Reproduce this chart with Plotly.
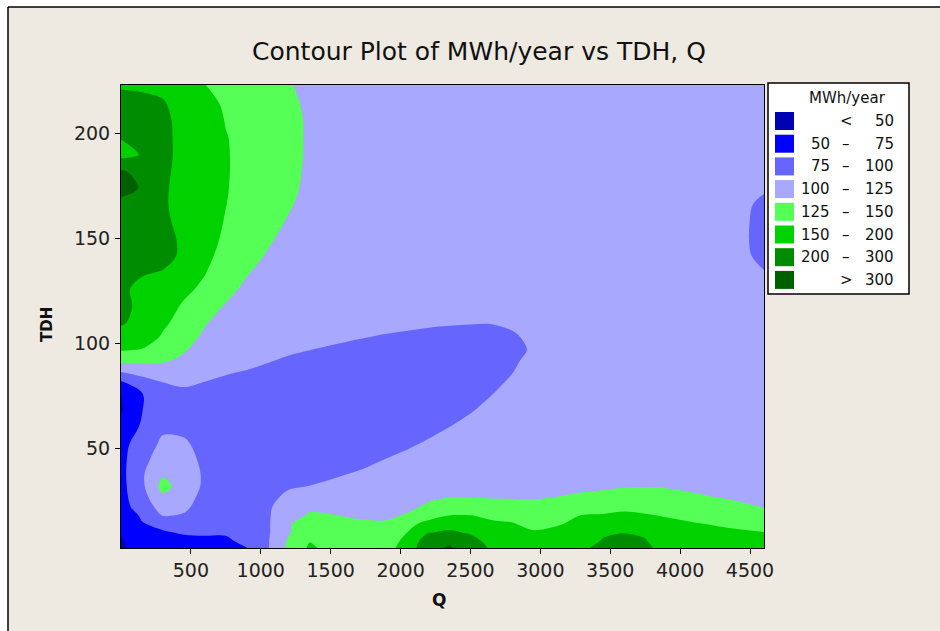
import numpy as np
import plotly.graph_objects as go

# ---------------- data ----------------
Q = [0, 150, 300, 450, 600, 750, 900, 1050, 1200, 1350, 1500, 1700, 1900, 2050, 2200,
     2350, 2500, 2650, 2800, 2950, 3100, 3300, 3450, 3600, 3750, 3900, 4100, 4350, 4600]

TDH = [2.6, 6, 10, 14, 18, 22, 27, 32, 38, 45, 52, 60, 68, 76, 82, 87, 92, 97, 103,
       110, 118, 126, 134, 142, 150, 158, 166, 174, 182, 190, 198, 206, 214, 223.2]

# MWh/year, one row per TDH value (bottom to top), one column per Q value
MWH = [
    [42, 59, 66, 67, 67.5, 67.5, 74.5, 98, 131, 157, 144, 135, 142, 172, 275, 308, 247, 195, 171, 172, 170, 194, 222, 237, 220, 184, 175, 175, 169],
    [45, 62, 69, 71, 72, 72, 80, 98, 128, 149, 143, 134, 139, 163, 261, 290, 232, 184, 166, 164, 169, 178, 207, 220, 205, 178, 172, 167, 160],
    [53, 65, 73.5, 76.5, 77, 77, 81.5, 97, 123, 142, 139, 132, 135, 150.5, 198, 215, 195, 172, 162, 153, 158, 175, 194, 199, 194, 172, 163, 155.5, 150.5],
    [59, 74, 79, 89.5, 84, 82.5, 85, 97, 123, 135, 131, 128, 127.5, 141, 170, 182, 175, 155, 152, 146, 148, 158.5, 173, 180, 173, 158.5, 152.5, 147.5, 144.5],
    [64, 77, 101, 98, 91, 87.5, 87.5, 97, 118.5, 127, 126, 123, 122, 127, 137.5, 151, 151, 147.5, 145.5, 138, 141.5, 152, 153.5, 157, 153.5, 149, 145, 139, 133],
    [66, 85, 110.5, 104, 91, 87.5, 87.5, 96.5, 113, 122, 120.5, 118, 117, 121.5, 128, 138, 137.5, 134.5, 133, 131.5, 133.5, 140, 143.5, 146.5, 144, 141, 137, 131, 124.5],
    [67, 91, 121, 107.5, 94.5, 87.5, 87.5, 92, 106, 109.5, 113, 114, 112.5, 115, 122, 124, 124, 123, 123, 123, 124.8, 128, 129, 130.8, 131, 130.5, 127.4, 123, 118],
    [67.5, 95, 133, 114, 96, 87.5, 87.5, 89.5, 97, 100.5, 104, 110, 112.5, 112.5, 115, 117.5, 117, 117, 116, 117, 118, 121, 122.7, 124, 124.5, 124, 121, 116, 112.5],
    [68, 97, 121.5, 113.5, 96.5, 87.5, 87.5, 87.5, 89, 92, 96.6, 102, 109, 112.5, 112.5, 112.5, 113, 113, 112.5, 112, 112, 114, 115, 116, 117, 116, 113, 112.5, 112.5],
    [68, 93, 111, 108, 95, 87.5, 87.5, 87.5, 87.5, 87.5, 87.5, 93, 100.4, 105.5, 112, 112.5, 113, 113, 113, 112.5, 112, 112, 112.5, 113, 113, 113, 112.5, 112.5, 112.5],
    [67.5, 86.5, 105, 104, 91, 87.5, 87.5, 87.5, 87.5, 87.5, 87.5, 87.5, 92.5, 97, 103, 109, 112.5, 113, 113, 113, 112.5, 112, 112, 112.5, 113, 113, 112.5, 112.5, 112.5],
    [60, 78, 96, 94, 88, 87.5, 87.5, 87.5, 87.5, 87.5, 87.5, 87.5, 87.5, 87.5, 94, 100.3, 107.5, 112.5, 113, 113, 112.5, 112, 112, 112.5, 113, 113, 112.5, 112.5, 112.5],
    [44.6, 74.5, 87, 87.5, 87.5, 87.5, 87.5, 87.5, 87.5, 87.5, 87.5, 87.5, 87.5, 87.5, 87.5, 91.5, 98.6, 106.6, 112.5, 113, 112.5, 112, 112, 112.5, 113, 113, 112.5, 112.5, 112.5],
    [48, 74, 91, 95.7, 92.5, 88.5, 87.5, 87.5, 87.5, 87.5, 87.5, 87.5, 87.5, 87.5, 87.5, 87.5, 87.5, 99.3, 108.7, 112.5, 112.5, 112, 112, 112.5, 113, 113, 112.5, 112.5, 112.5],
    [74, 91, 101, 103.6, 100.2, 96, 93, 88.8, 87.5, 87.5, 87.5, 87.5, 87.5, 87.5, 87.5, 87.5, 87.5, 94, 103, 111, 112.5, 112, 112, 112.5, 113, 113, 112.5, 112.5, 112.5],
    [103.3, 110.8, 115, 113, 106.7, 102.8, 99.5, 95, 90, 87.5, 87.5, 87.5, 87.5, 87.5, 87.5, 87.5, 87.5, 87.5, 99, 110.5, 112.5, 112, 112, 112.5, 113, 113, 112.5, 112.5, 112.5],
    [131.8, 130, 128, 120.7, 112.5, 109, 106, 101.7, 97, 93.7, 90.7, 87.5, 87.5, 87.5, 87.5, 87.5, 87.5, 87.5, 95.8, 107, 112.5, 112, 112, 112.5, 113, 113, 112.5, 112.5, 112.5],
    [154, 149, 137.5, 127, 116, 112.5, 112.5, 108, 103.6, 100.3, 97.2, 93.4, 90, 88, 87.5, 87.5, 87.5, 87.5, 91, 104, 112.5, 112, 112, 112.5, 113, 113, 112.5, 112.5, 112.5],
    [181, 171, 147.5, 133.8, 121, 112.5, 112.5, 112.5, 111, 108.4, 105, 101.2, 97.8, 96, 94, 92.8, 92, 91.8, 96, 106.6, 112.5, 112, 112, 112.5, 113, 113, 112.5, 112.5, 112.5],
    [211, 185, 157.6, 142, 126.8, 116.5, 112.5, 112.5, 112.5, 112.5, 112.5, 110.6, 106.8, 105, 103.2, 102, 101.2, 101, 105, 109, 112.5, 112, 112, 112.5, 113, 113, 112.5, 112.5, 112.5],
    [225, 189, 168, 147.7, 135.3, 123.4, 113.5, 112.5, 112.5, 112.5, 113, 113, 112.5, 112, 112, 112.5, 113, 113, 113, 112.5, 112.5, 112, 112, 112.5, 113, 113, 112.5, 112.5, 112.5],
    [223, 185, 178, 159, 145.7, 132, 120, 112.5, 112.5, 112.5, 113, 113, 112.5, 112, 112, 112.5, 113, 113, 113, 112.5, 112.5, 112, 112, 112.5, 113, 113, 112.5, 112.5, 112],
    [230, 211, 197, 179, 152, 138, 126.8, 116.8, 112.5, 112.5, 113, 113, 112.5, 112, 112, 112.5, 113, 113, 113, 112.5, 112.5, 112, 112, 112.5, 113, 113, 112.5, 112.5, 101],
    [255, 250, 233, 190.5, 160.5, 143, 135.3, 122.7, 112.5, 112.5, 113, 113, 112.5, 112, 112, 112.5, 113, 113, 113, 112.5, 112.5, 112, 112, 112.5, 113, 113, 112.5, 112.5, 93],
    [255, 250, 233, 190.5, 168, 146, 137.5, 128.6, 117.8, 112.5, 113, 113, 112.5, 112, 112, 112.5, 113, 113, 113, 112.5, 112.5, 112, 112, 112.5, 113, 113, 112.5, 112, 91],
    [205, 240, 221, 184.5, 173, 148.4, 140, 134.3, 122.6, 112.5, 113, 113, 112.5, 112, 112, 112.5, 113, 113, 113, 112.5, 112.5, 112, 112, 112.5, 113, 113, 112.5, 112, 91.7],
    [260, 245, 214, 180.5, 175, 150.6, 142, 134.5, 127.5, 116.5, 113, 113, 112.5, 112, 112, 112.5, 113, 113, 113, 112.5, 112.5, 112, 112, 112.5, 113, 113, 112.5, 112.5, 94],
    [345, 290, 215, 181, 175, 152.4, 143, 136, 131.5, 118.5, 113, 113, 112.5, 112, 112, 112.5, 113, 113, 113, 112.5, 112.5, 112, 112, 112.5, 113, 113, 112.5, 112.5, 103],
    [310, 275, 220, 184, 175, 153, 143.7, 136.5, 133, 120, 113, 113, 112.5, 112, 112, 112.5, 113, 113, 113, 112.5, 112.5, 112, 112, 112.5, 113, 113, 112.5, 112.5, 112],
    [185, 206, 225, 186, 175, 153, 143.8, 136.8, 134, 121, 113, 113, 112.5, 112, 112, 112.5, 113, 113, 113, 112.5, 112.5, 112, 112, 112.5, 113, 113, 112.5, 112.5, 112.5],
    [203, 220, 224, 186, 175, 152, 143.5, 136.7, 134, 121, 113, 113, 112.5, 112, 112, 112.5, 113, 113, 113, 112.5, 112.5, 112, 112, 112.5, 113, 113, 112.5, 112.5, 112.5],
    [295, 265, 222, 184.5, 175, 149, 143, 136.3, 134, 121, 113, 113, 112.5, 112, 112, 112.5, 113, 113, 113, 112.5, 112.5, 112, 112, 112.5, 113, 113, 112.5, 112.5, 112.5],
    [260, 230, 210, 179, 169, 146, 141.5, 135, 132, 119, 113, 113, 112.5, 112, 112, 112.5, 113, 113, 113, 112.5, 112.5, 112, 112, 112.5, 113, 113, 112.5, 112.5, 112.5],
    [191, 191, 187.5, 174, 150.5, 144, 138, 132, 127.8, 114.8, 113, 113, 112.5, 112, 112, 112.5, 113, 113, 113, 112.5, 112.5, 112, 112, 112.5, 113, 113, 112.5, 112.5, 112.5],
]

# contour class breaks (MWh/year) and legend
BREAKS = [0, 50, 75, 100, 125, 150, 200, 300, 400]
LEGEND_LOW = ["", "50", "75", "100", "125", "150", "200", ""]
LEGEND_SEP = ["<", "\u2013", "\u2013", "\u2013", "\u2013", "\u2013", "\u2013", ">"]
LEGEND_HIGH = ["50", "75", "100", "125", "150", "200", "300", "300"]
COLORS = ["#0000B4", "#0000FF", "#6666FF", "#A8A8FF",
          "#55FF55", "#00D200", "#008C00", "#006000"]

X_TICKS = [500, 1000, 1500, 2000, 2500, 3000, 3500, 4000, 4500]
Y_TICKS = [50, 100, 150, 200]

# ---------------- figure ----------------
# map the uneven class breaks onto equal bands so Plotly can use equal contour steps
z_band = np.interp(np.array(MWH, dtype=float), BREAKS, list(range(len(BREAKS))))

W, H = 940, 631
L, R, T, B = 121, 764, 85, 548
PW, PH = R - L, B - T


def fx(px):
    return (px - L) / PW


def fy(py):
    return 1 - (py - T) / PH


fig = go.Figure()
fig.add_trace(go.Contour(
    x=Q, y=TDH, z=z_band,
    autocontour=False,
    contours=dict(start=1, end=7, size=1, coloring="fill", showlines=False),
    line=dict(width=0, smoothing=1.0),
    colorscale=[[k / 7, COLORS[k]] for k in range(8)],
    showscale=False, hoverinfo="skip",
))

FONT = "DejaVu Sans"
axis_common = dict(
    ticks="outside", ticklen=5, tickwidth=1, tickcolor="black",
    showline=True, linecolor="black", linewidth=1, mirror=True,
    showgrid=False, zeroline=False,
    tickfont=dict(family=FONT, size=19, color="#222"),
)
fig.update_layout(
    width=W, height=H,
    margin=dict(l=L, r=W - R, t=T, b=H - B, pad=0),
    paper_bgcolor="#EEEAE1", plot_bgcolor="#A8A8FF",
    showlegend=False,
    xaxis=dict(range=[0, 4600], tickvals=X_TICKS, **axis_common),
    yaxis=dict(range=[2.6, 223.2], tickvals=Y_TICKS, ticklabelstandoff=1, **axis_common),
)

shapes = []
annotations = []

# outer frame of the graph window
shapes.append(dict(type="rect", xref="paper", yref="paper", x0=fx(-5), x1=fx(8), y0=fy(640), y1=fy(-5),
                   fillcolor="white", line=dict(width=0), layer="above"))
shapes.append(dict(type="rect", xref="paper", yref="paper", x0=fx(-5), x1=fx(945), y0=fy(7), y1=fy(-5),
                   fillcolor="white", line=dict(width=0), layer="above"))
shapes.append(dict(type="line", xref="paper", yref="paper", x0=fx(8), x1=fx(8), y0=fy(7), y1=fy(640),
                   line=dict(color="black", width=1.5), layer="above"))
shapes.append(dict(type="line", xref="paper", yref="paper", x0=fx(8), x1=fx(945), y0=fy(7), y1=fy(7),
                   line=dict(color="black", width=1.5), layer="above"))

# title and axis titles
annotations.append(dict(text="Contour Plot of MWh/year vs TDH, Q", xref="paper", yref="paper",
                        x=fx(479), y=fy(52), xanchor="center", yanchor="middle", showarrow=False,
                        font=dict(family=FONT, size=25, color="#111")))
annotations.append(dict(text="<b>Q</b>", xref="paper", yref="paper", x=fx(439), y=fy(600),
                        xanchor="center", yanchor="middle", showarrow=False,
                        font=dict(family=FONT, size=17, color="#111")))
annotations.append(dict(text="<b>TDH</b>", xref="paper", yref="paper", x=fx(47), y=fy(325),
                        xanchor="center", yanchor="middle", showarrow=False, textangle=-90,
                        font=dict(family=FONT, size=15, color="#111")))

# legend box
shapes.append(dict(type="rect", xref="paper", yref="paper", x0=fx(768), x1=fx(909), y0=fy(294), y1=fy(83),
                   fillcolor="white", line=dict(color="black", width=1.5), layer="above"))
annotations.append(dict(text="MWh/year", xref="paper", yref="paper", x=fx(847), y=fy(98),
                        xanchor="center", yanchor="middle", showarrow=False,
                        font=dict(family=FONT, size=15, color="#111")))
for k in range(8):
    cy = 121 + k * 22.7
    shapes.append(dict(type="rect", xref="paper", yref="paper", x0=fx(775), x1=fx(794),
                       y0=fy(cy + 9), y1=fy(cy - 9), fillcolor=COLORS[k], line=dict(width=0), layer="above"))
    lf = dict(family=FONT, size=15, color="#111")
    if LEGEND_LOW[k]:
        annotations.append(dict(text=LEGEND_LOW[k], xref="paper", yref="paper", x=fx(832), y=fy(cy),
                                xanchor="right", yanchor="middle", showarrow=False, font=lf))
    annotations.append(dict(text=LEGEND_SEP[k], xref="paper", yref="paper", x=fx(846), y=fy(cy),
                            xanchor="center", yanchor="middle", showarrow=False, font=lf))
    annotations.append(dict(text=LEGEND_HIGH[k], xref="paper", yref="paper", x=fx(896), y=fy(cy),
                            xanchor="right", yanchor="middle", showarrow=False, font=lf))

fig.update_layout(shapes=shapes, annotations=annotations)
fig.write_html("out.html", config={"displayModeBar": False},
               post_script="document.body.style.margin='0';document.body.style.overflow='hidden';")
